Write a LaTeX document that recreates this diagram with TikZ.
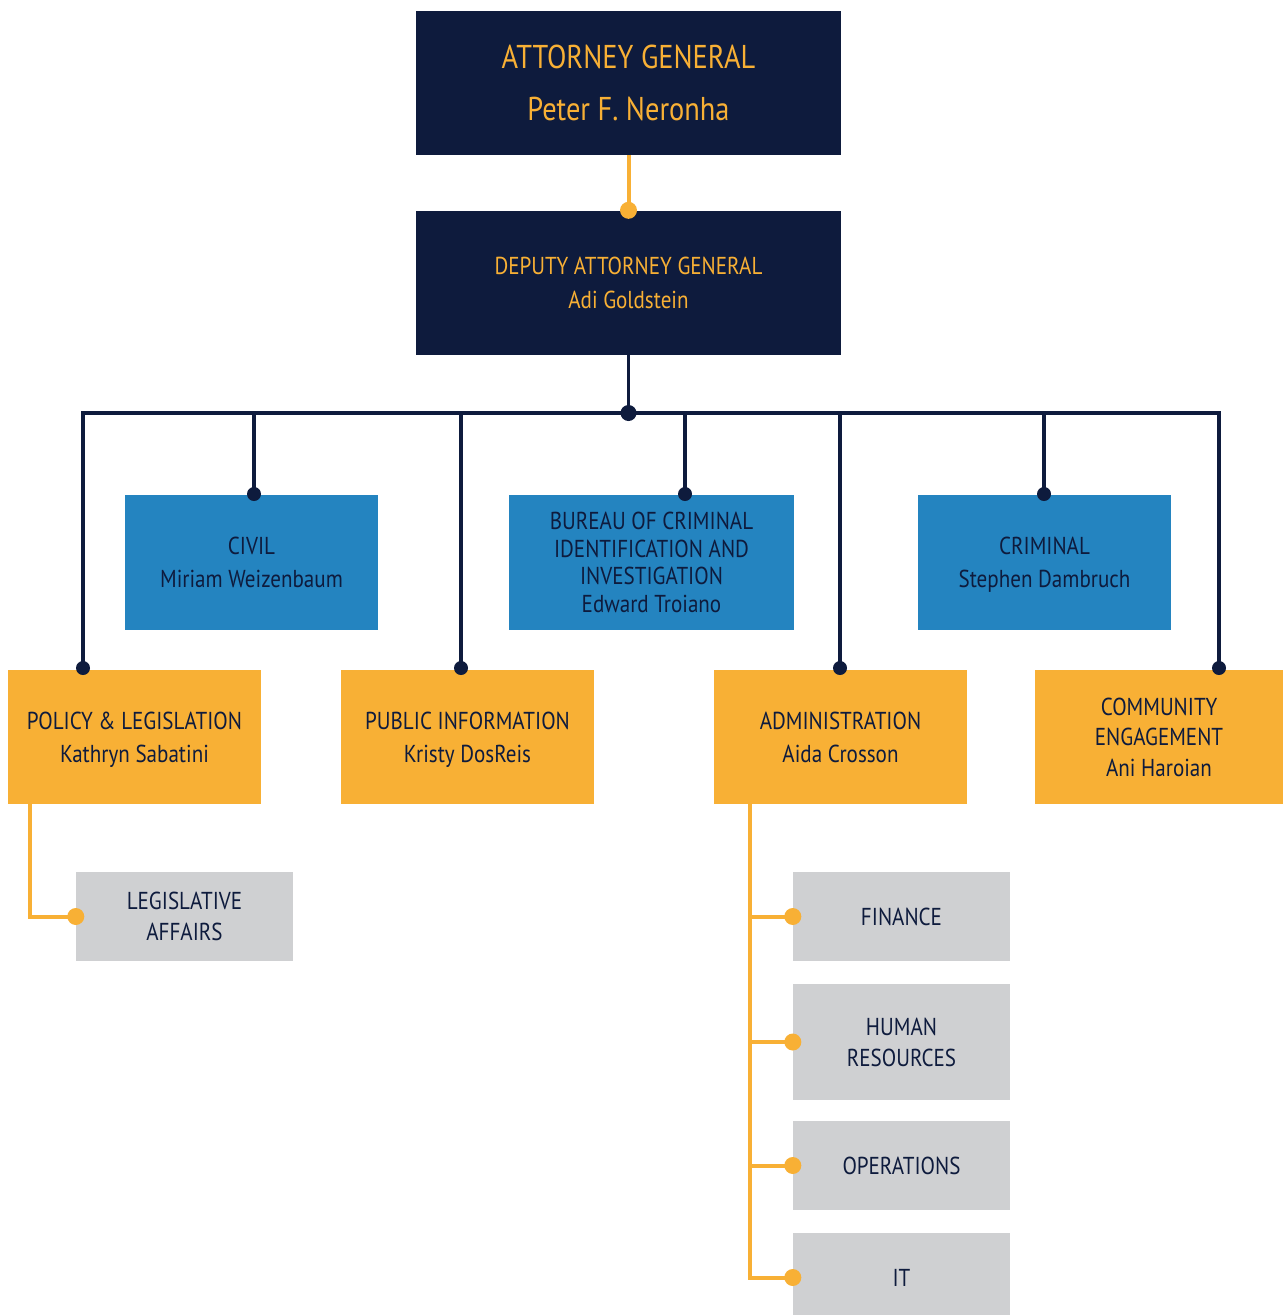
\documentclass[tikz,border=0pt]{standalone}
\usepackage{fontspec}
\setmainfont{PT Sans}[FakeStretch=0.86]
\usepackage{tikz}

\definecolor{navy}{HTML}{0E1B3D}
\definecolor{gold}{HTML}{F8B035}
\definecolor{steel}{HTML}{2484C0}
\definecolor{silver}{HTML}{CFD0D2}

\begin{document}
\begin{tikzpicture}[x=1pt,y=-1pt,
    box/.style = {rectangle, inner sep=0pt, align=center, text=navy, text depth=0pt,
                  font=\fontsize{24.5}{33}\selectfont},
    top/.style = {box, fill=navy, text=gold, minimum width=425pt, minimum height=144pt},
    bureau/.style = {box, fill=steel, minimum width=253pt, minimum height=135pt},
    office/.style = {box, fill=gold, minimum width=253pt, minimum height=134pt},
    unit/.style = {box, fill=silver, minimum width=217pt, minimum height=89pt},
    link/.style = {draw=navy, line width=3.5pt},
    sub/.style = {draw=gold, line width=4pt}]
    \useasboundingbox (0,0) rectangle (1283,1315);
    % top of the chart
    \node[top, font=\fontsize{33}{52}\selectfont] (1) at (628.5,83) {ATTORNEY GENERAL\\Peter F. Neronha};
    \node[top, font=\fontsize{24.5}{34}\selectfont] (2) at (628.5,282.5) {DEPUTY ATTORNEY GENERAL\\Adi Goldstein};
    % bureaus
    \node[bureau] (3) at (251.5,562.5) {CIVIL\\Miriam Weizenbaum};
    \node[bureau, minimum width=285pt, font=\fontsize{24.5}{27.5}\selectfont] (4) at (651.5,562.5) {BUREAU OF CRIMINAL\\IDENTIFICATION AND\\INVESTIGATION\\Edward Troiano};
    \node[bureau] (5) at (1044.5,562.5) {CRIMINAL\\Stephen Dambruch};
    % offices
    \node[office] (6) at (134.5,737) {POLICY \& LEGISLATION\\Kathryn Sabatini};
    \node[office] (7) at (467.5,737) {PUBLIC INFORMATION\\Kristy DosReis};
    \node[office] (8) at (840.5,737) {ADMINISTRATION\\Aida Crosson};
    \node[office, minimum width=248pt, font=\fontsize{24.5}{30.5}\selectfont] (9) at (1159,737) {COMMUNITY\\ENGAGEMENT\\Ani Haroian};
    % units
    \node[unit, font=\fontsize{24.5}{31}\selectfont] (10) at (184.5,916.5) {LEGISLATIVE\\AFFAIRS};
    \node[unit] (11) at (901.5,916.5) {FINANCE};
    \node[unit, minimum height=116pt, font=\fontsize{24.5}{31}\selectfont] (12) at (901.5,1042) {HUMAN\\RESOURCES};
    \node[unit] (13) at (901.5,1165.5) {OPERATIONS};
    \node[unit] (14) at (901.5,1277.5) {IT};
    % connectors
    \coordinate (bus) at (628.5,413);
    \coordinate (d6) at (83,668);
    \coordinate (d3) at (254,494);
    \coordinate (d7) at (461,668);
    \coordinate (d4) at (685,494);
    \coordinate (d8) at (840,668);
    \coordinate (d5) at (1044,494);
    \coordinate (d9) at (1219,668);
    \coordinate (p0) at (30,804);
    \coordinate (a0) at (750,804);
    \draw[sub] (1) -- (2.north);
    \fill[gold] (2.north) circle (8.5);
    \draw[link] (2) -- (bus);
    \draw[link] (d6) |- (bus) -| (d9);
    \foreach \d in {d3,d7,d4,d8,d5}
        \draw[link] (\d) -- (\d |- bus);
    \fill[navy] (bus) circle (8);
    \foreach \d in {d6,d3,d7,d4,d8,d5,d9}
        \fill[navy] (\d) circle (7);
    \draw[sub] (p0) |- (10.west);
    \foreach \n in {11,12,13,14}
        \draw[sub] (a0) |- (\n.west);
    \foreach \n in {10,11,12,13,14}
        \fill[gold] (\n.west) circle (8.5);
\end{tikzpicture}
\end{document}
